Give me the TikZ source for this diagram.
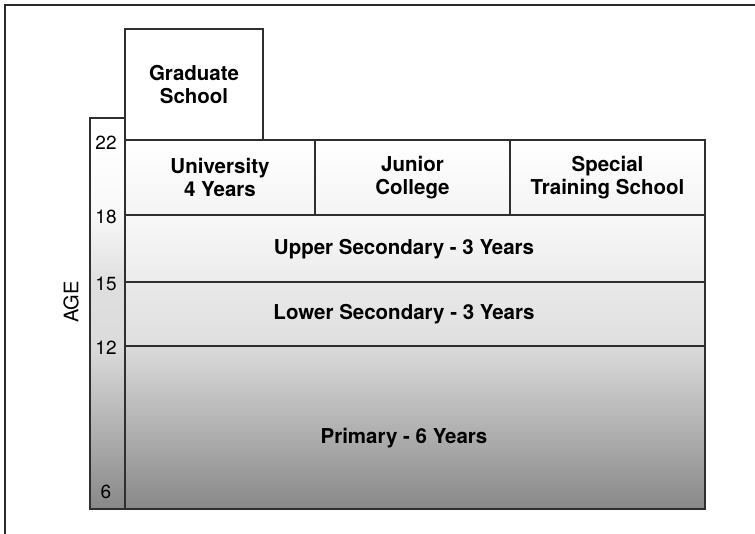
\documentclass[tikz,border=0pt]{standalone}
\usepackage{fontspec}
\setmainfont{TeX Gyre Heros}
\usetikzlibrary{positioning}

\definecolor{linegray}{HTML}{2F2F2F}
\definecolor{framegray}{HTML}{2A2A2A}
\definecolor{shadeA}{HTML}{F4F4F4}
\definecolor{shadeB}{HTML}{F8F8F8}
\definecolor{shadeC}{HTML}{ECECEC}
\definecolor{shadeD}{HTML}{E9E9E9}
\definecolor{shadeE}{HTML}{DFDFDF}
\definecolor{shadeF}{HTML}{DBDBDB}
\definecolor{shadeG}{HTML}{888888}

% age column runs through all the row shades
\pgfdeclareverticalshading{agefade}{100bp}{color(0bp)=(shadeG); color(25bp)=(shadeG); color(45.8bp)=(shadeF); color(54bp)=(shadeE); color(62.6bp)=(shadeB); color(72.2bp)=(white); color(100bp)=(white)}

\begin{document}
\begin{tikzpicture}[x=1pt,y=-1pt]
\tikzstyle{cell} = [draw=linegray, line width=1.4pt, inner sep=0pt, outer sep=0pt, anchor=north west, align=center, font=\bfseries\fontsize{20.5}{23.5}\selectfont]
\tikzstyle{rowtext} = [font=\bfseries\fontsize{20.5}{23.5}\selectfont]
\tikzstyle{agenum} = [font=\fontsize{19}{21}\selectfont]

\useasboundingbox (0,0) rectangle (755,534);
\draw[line width=2.6pt, draw=framegray] (5,534) -- (5,5) -- (755,5);

\node (agecol) [cell, shading=agefade, minimum width=35pt, minimum height=391pt] at (90,118) {};
\node (grad) [cell, fill=white, minimum width=138pt, minimum height=111pt] at (125,29) {Graduate\\School};

\node (univ) [cell, top color=white, bottom color=shadeA, minimum width=190pt, minimum height=75pt] at (125,140) {University\\4 Years};
\node (junior) [cell, top color=white, bottom color=shadeA, minimum width=195pt, minimum height=75pt, right=0pt of univ] {Junior\\College};
\node (special) [cell, top color=white, bottom color=shadeA, minimum width=195pt, minimum height=75pt, right=0pt of junior] {Special\\Training School};

\node (upper) [cell, top color=shadeB, bottom color=shadeC, minimum width=580pt, minimum height=67pt] at (125,215) {};
\node (lower) [cell, top color=shadeD, bottom color=shadeE, minimum width=580pt, minimum height=64pt] at (125,282) {};
\node (primary) [cell, top color=shadeF, bottom color=shadeG, minimum width=580pt, minimum height=163pt] at (125,346) {};

\node (uptext) [rowtext] at (404,249) {Upper Secondary - 3 Years};
\node (lowtext) [rowtext] at (404,314.5) {Lower Secondary - 3 Years};
\node (primtext) [rowtext] at (404,438) {Primary - 6 Years};

\node (a22) [agenum] at (106,143) {22};
\node (a18) [agenum] at (106,217) {18};
\node (a15) [agenum] at (106,284) {15};
\node (a12) [agenum] at (106,348) {12};
\node (a6) [agenum] at (106,492) {6};
\node (agelbl) [agenum, rotate=90, font=\fontsize{20}{22}\selectfont] at (71,302) {AGE};
\end{tikzpicture}
\end{document}
